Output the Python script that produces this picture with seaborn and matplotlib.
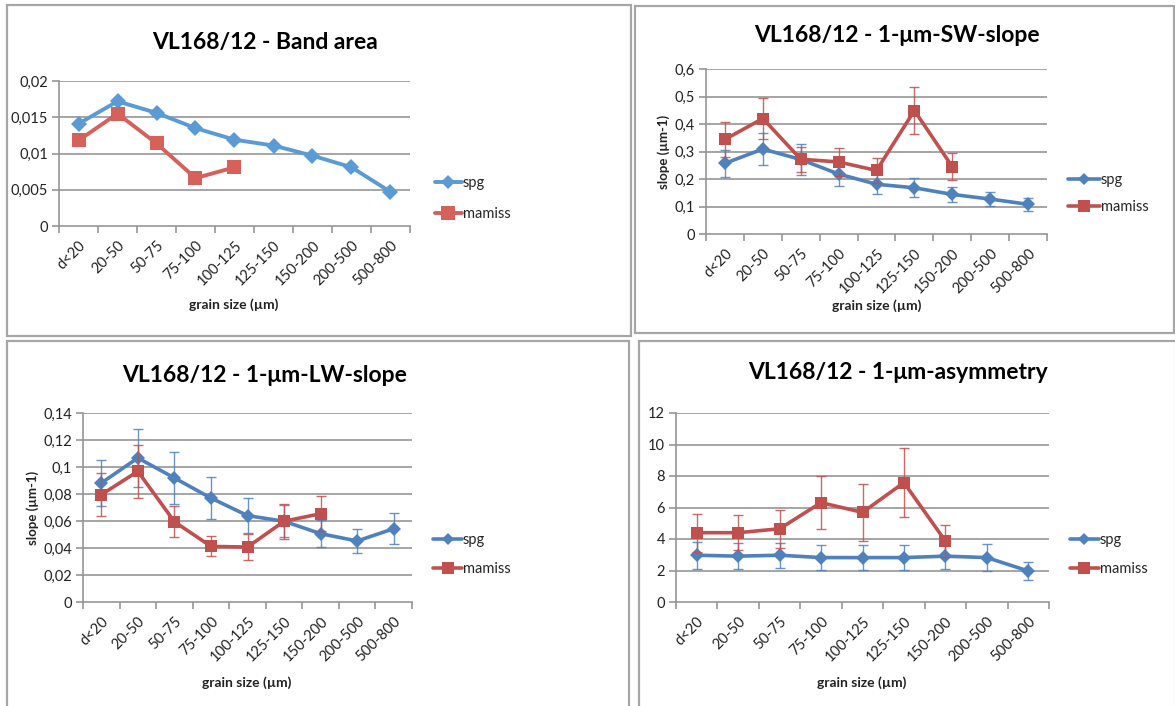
import numpy as np
import matplotlib
matplotlib.use("Agg")
import matplotlib.pyplot as plt
import seaborn as sns
from matplotlib.lines import Line2D
from matplotlib.patches import Rectangle

# -----------------------------------------------------------
# Data
# -----------------------------------------------------------
grain_sizes = ["d<20", "20-50", "50-75", "75-100", "100-125",
               "125-150", "150-200", "200-500", "500-800"]

band_spg = [0.0141, 0.0172, 0.0156, 0.0135, 0.0119, 0.0111, 0.0097, 0.0081, 0.0047]
band_mamiss = [0.0118, 0.0155, 0.0114, 0.0066, 0.0081]

sw_spg = [0.257, 0.309, 0.271, 0.218, 0.181, 0.168, 0.144, 0.127, 0.108]
sw_spg_err = [0.050, 0.058, 0.055, 0.043, 0.036, 0.034, 0.028, 0.026, 0.023]
sw_mamiss = [0.344, 0.420, 0.272, 0.262, 0.231, 0.449, 0.245]
sw_mamiss_err = [0.064, 0.075, 0.046, 0.052, 0.047, 0.085, 0.050]

lw_spg = [0.0881, 0.1067, 0.0919, 0.0770, 0.0640, 0.0598, 0.0506, 0.0452, 0.0543]
lw_spg_err = [0.0173, 0.0212, 0.0190, 0.0155, 0.0130, 0.0120, 0.0102, 0.0090, 0.0116]
lw_mamiss = [0.0795, 0.0968, 0.0595, 0.0412, 0.0407, 0.0598, 0.0654]
lw_mamiss_err = [0.0160, 0.0196, 0.0115, 0.0074, 0.0099, 0.0128, 0.0130]

asym_spg = [2.97, 2.91, 2.97, 2.82, 2.82, 2.82, 2.91, 2.82, 1.97]
asym_spg_err = [0.87, 0.83, 0.80, 0.80, 0.80, 0.80, 0.80, 0.85, 0.60]
asym_mamiss = [4.40, 4.40, 4.65, 6.31, 5.69, 7.58, 3.87]
asym_mamiss_err = [1.20, 1.10, 1.20, 1.70, 1.80, 2.20, 1.00]

series_names = ["spg", "mamiss"]

# -----------------------------------------------------------
# Layout helpers (pixels of a 1175x706 canvas)
# -----------------------------------------------------------
W, H = 1175, 706
FONT = ["Lato", "DejaVu Sans"]

sns.set_theme(style="white")
plt.rcParams["font.family"] = FONT

fig = plt.figure(figsize=(W / 100, H / 100), dpi=100)
fig.patch.set_facecolor("white")


def px_rect(x0, y0, x1, y1):
    return [x0 / W, 1 - y1 / H, (x1 - x0) / W, (y1 - y0) / H]


def fx(x):
    return x / W


def fy(y):
    return 1 - y / H


def panel_frame(x0, y0, x1, y1):
    fig.patches.append(Rectangle((fx(x0), fy(y1)), (x1 - x0) / W, (y1 - y0) / H,
                                 transform=fig.transFigure, fill=False,
                                 edgecolor="#a6a6a6", linewidth=1.6, zorder=0))


def fmt_tick(v):
    return "{:g}".format(round(v, 6)).replace(".", ",")


def draw_panel(rect, title, title_xy, xlabel_xy, yticks, spg, mamiss,
               spg_err=None, mamiss_err=None, colors=("#4f81bd", "#c0504d"),
               ylabel=None, ylabel_xy=None, legend_anchor=(1.06, 0.24),
               legend_spacing=1.0, handlelength=2.1, lw=2.6, ms=(7, 8)):
    ax = fig.add_axes(px_rect(*rect))
    pos = np.arange(len(grain_sizes))

    # gridlines and axes
    for v in yticks[1:]:
        ax.axhline(v, color="#969696", linewidth=1.2, zorder=1)
    ax.set_xlim(-0.5, len(grain_sizes) - 0.5)
    ax.set_ylim(yticks[0], yticks[-1])
    ax.set_yticks(yticks)
    ax.set_yticklabels([fmt_tick(v) for v in yticks])
    ax.set_xticks(pos)
    ax.set_xticklabels(grain_sizes, rotation=45, ha="right", rotation_mode="anchor")
    ax.set_xticks(np.arange(len(grain_sizes) + 1) - 0.5, minor=True)
    ax.tick_params(axis="x", which="major", length=0, pad=9, labelsize=10.5,
                   labelcolor="#222222")
    ax.tick_params(axis="x", which="minor", length=5, width=1.2, color="#969696",
                   direction="out", bottom=True)
    ax.tick_params(axis="y", which="major", length=5, width=1.2, color="#969696",
                   direction="out", left=True, pad=3, labelsize=10.5,
                   labelcolor="#222222")
    for side in ["top", "right"]:
        ax.spines[side].set_visible(False)
    for side in ["left", "bottom"]:
        ax.spines[side].set_color("#969696")
        ax.spines[side].set_linewidth(1.2)
    ax.set_facecolor("none")
    ax.grid(False)

    c_spg, c_mam = colors
    sns.lineplot(x=pos, y=spg, ax=ax, color=c_spg, marker="D", markersize=ms[0],
                 markeredgewidth=0, linewidth=lw, errorbar=None, zorder=3)
    mpos = pos[:len(mamiss)]
    sns.lineplot(x=mpos, y=mamiss, ax=ax, color=c_mam, marker="s", markersize=ms[1],
                 markeredgewidth=0, linewidth=lw, errorbar=None, zorder=4)
    if spg_err is not None:
        ax.errorbar(pos, spg, yerr=spg_err, fmt="none", ecolor=c_spg,
                    elinewidth=1.0, capsize=3.5, capthick=1.0, alpha=0.85, zorder=3)
    if mamiss_err is not None:
        ax.errorbar(mpos, mamiss, yerr=mamiss_err, fmt="none", ecolor=c_mam,
                    elinewidth=1.0, capsize=3.5, capthick=1.0, alpha=0.85, zorder=4)
    ax.set_xlabel("")
    ax.set_ylabel("")

    handles = [
        Line2D([], [], color=c_spg, marker="D", markersize=ms[0] - 1,
               markeredgewidth=0, linewidth=lw),
        Line2D([], [], color=c_mam, marker="s", markersize=ms[1],
               markeredgewidth=0, linewidth=lw),
    ]
    ax.legend(handles, series_names, loc="center left", bbox_to_anchor=legend_anchor,
              frameon=False, handlelength=handlelength, handletextpad=0.05,
              borderpad=0, borderaxespad=0, labelspacing=legend_spacing,
              prop={"family": FONT, "size": 10.5})

    fig.text(fx(title_xy[0]), fy(title_xy[1]), title, ha="center", va="center",
             fontsize=16.5, fontweight="bold", color="black")
    fig.text(fx(xlabel_xy[0]), fy(xlabel_xy[1]), "grain size (µm)", ha="center",
             va="center", fontsize=10, fontweight="bold", color="#222222")
    if ylabel:
        fig.text(fx(ylabel_xy[0]), fy(ylabel_xy[1]), ylabel, ha="center",
                 va="center", rotation=90, fontsize=9.5, fontweight="bold",
                 color="#222222")
    return ax


# -----------------------------------------------------------
# Panel frames
# -----------------------------------------------------------
panel_frame(7, 5, 631, 336)
panel_frame(635, 6, 1174, 333)
panel_frame(7, 341, 629, 708)
panel_frame(639, 341, 1176, 708)

# -----------------------------------------------------------
# Panels
# -----------------------------------------------------------
draw_panel((59, 81, 410, 226), "VL168/12 - Band area", (265, 43), (234, 305),
           [0, 0.005, 0.01, 0.015, 0.02], band_spg, band_mamiss,
           colors=("#5b9bd5", "#d6605a"), legend_anchor=(1.07, 0.19),
           legend_spacing=1.15, handlelength=1.9, lw=2.8, ms=(8, 10))

draw_panel((706, 69, 1047, 234), "VL168/12 - 1-μm-SW-slope", (897, 35), (877, 306),
           list(np.round(np.arange(0, 0.61, 0.1), 2)), sw_spg, sw_mamiss,
           spg_err=sw_spg_err, mamiss_err=sw_mamiss_err,
           ylabel="slope (µm-1)", ylabel_xy=(664, 152),
           legend_anchor=(1.062, 0.245), legend_spacing=0.85, handlelength=2.2)

draw_panel((83, 413, 412, 602), "VL168/12 - 1-μm-LW-slope", (265, 375), (247, 683),
           list(np.round(np.arange(0, 0.141, 0.02), 2)), lw_spg, lw_mamiss,
           spg_err=lw_spg_err, mamiss_err=lw_mamiss_err,
           ylabel="slope (µm-1)", ylabel_xy=(33, 508),
           legend_anchor=(1.064, 0.25), legend_spacing=1.05, handlelength=2.0)

draw_panel((676, 413, 1049, 602), "VL168/12 - 1-μm-asymmetry", (898, 373), (862, 683),
           list(range(0, 13, 2)), asym_spg, asym_mamiss,
           spg_err=asym_spg_err, mamiss_err=asym_mamiss_err,
           legend_anchor=(1.056, 0.25), legend_spacing=1.05, handlelength=2.0)

fig.savefig("out.png", dpi=100, facecolor="white")
